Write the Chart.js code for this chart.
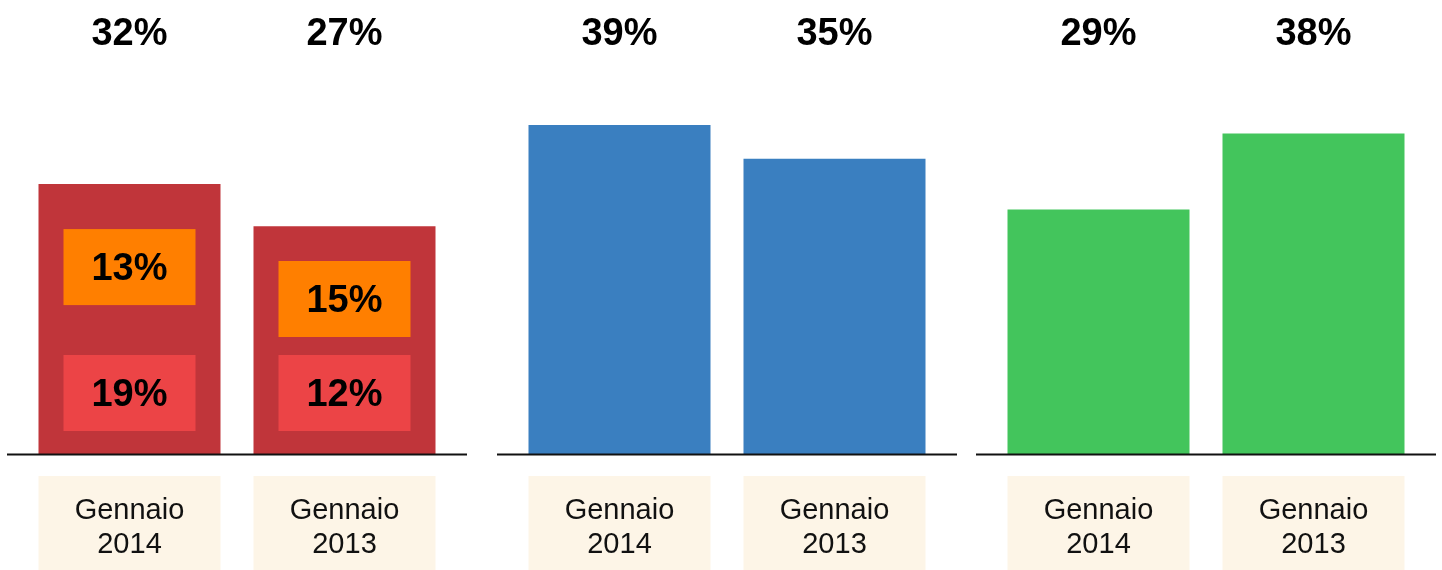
<!DOCTYPE html>
<html>
<head>
<meta charset="utf-8">
<script src="https://cdn.jsdelivr.net/npm/chart.js@4/dist/chart.umd.min.js"></script>
<style>
  body { margin: 0; background: #fff; }
  #wrap { position: relative; width: 1442px; height: 570px; overflow: hidden; }
  canvas { position: absolute; top: 0; }
</style>
</head>
<body>
<div id="wrap">
  <canvas id="c1" width="460" height="570" style="left:7px"></canvas>
  <canvas id="c2" width="460" height="570" style="left:497px"></canvas>
  <canvas id="c3" width="460" height="570" style="left:976px"></canvas>
</div>
<script>
// data
var categories = [['Gennaio', '2014'], ['Gennaio', '2013']];
var redValues = [32, 27];
var blueValues = [39, 35];
var greenValues = [29, 38];
// inner parts of the red bars
var orangeParts = [13, 15];
var lightRedParts = [19, 12];

var FONT = '"Liberation Sans", Arial, Helvetica, sans-serif';

// cream boxes behind the x labels
var labelBoxes = {
  id: 'labelBoxes',
  beforeDraw: function (chart) {
    var ctx = chart.ctx;
    var meta = chart.getDatasetMeta(0);
    ctx.save();
    ctx.fillStyle = '#fdf5e7';
    meta.data.forEach(function (bar) {
      var top = chart.chartArea.bottom + 22;
      ctx.fillRect(bar.x - bar.width / 2, top, bar.width, chart.height - top);
    });
    ctx.restore();
  }
};

// baseline + value labels on top + inner boxes
var extras = {
  id: 'extras',
  afterDatasetsDraw: function (chart, args, opts) {
    var ctx = chart.ctx;
    var meta = chart.getDatasetMeta(0);
    var vals = chart.data.datasets[0].data;
    var bottom = chart.chartArea.bottom;
    ctx.save();

    ctx.strokeStyle = '#111';
    ctx.lineWidth = 2;
    ctx.beginPath();
    ctx.moveTo(0, bottom + 0.5);
    ctx.lineTo(chart.width, bottom + 0.5);
    ctx.stroke();

    ctx.fillStyle = '#000';
    ctx.textAlign = 'center';
    ctx.textBaseline = 'alphabetic';
    ctx.font = 'bold 38px ' + FONT;
    meta.data.forEach(function (bar, i) {
      ctx.fillText(vals[i] + '%', bar.x, 45);
    });

    if (opts.upper) {
      meta.data.forEach(function (bar, i) {
        var w = bar.width - 50;
        var h = 76;
        var x = bar.x - w / 2;
        var lowTop = bottom - 23 - h;
        var upBottom = Math.min(bar.y + 121, lowTop - 18);
        var upTop = upBottom - h;

        ctx.fillStyle = '#ec4446';
        ctx.fillRect(x, lowTop, w, h);
        ctx.fillStyle = '#ff7f00';
        ctx.fillRect(x, upTop, w, h);

        ctx.fillStyle = '#000';
        ctx.font = 'bold 38px ' + FONT;
        ctx.fillText(opts.lower[i] + '%', bar.x, lowTop + h / 2 + 13);
        ctx.fillText(opts.upper[i] + '%', bar.x, upTop + h / 2 + 13);
      });
    }
    ctx.restore();
  }
};

function makeChart(id, values, color, upper, lower) {
  return new Chart(document.getElementById(id), {
    type: 'bar',
    data: {
      labels: categories,
      datasets: [{
        data: values,
        backgroundColor: color,
        borderWidth: 0,
        barPercentage: 182 / 215,
        categoryPercentage: 1
      }]
    },
    options: {
      responsive: false,
      animation: false,
      devicePixelRatio: 1,
      layout: { padding: { top: 66, bottom: 8, left: 15, right: 15 } },
      plugins: {
        legend: { display: false },
        tooltip: { enabled: false },
        extras: { upper: upper, lower: lower }
      },
      scales: {
        y: { display: false, min: 0, max: 46 },
        x: {
          grid: { display: false, drawTicks: false },
          border: { display: false },
          afterFit: function (scale) { scale.height = 108; },
          ticks: {
            padding: 40,
            color: '#111',
            font: { family: FONT, size: 29, lineHeight: 34 / 29 },
            maxRotation: 0
          }
        }
      }
    },
    plugins: [labelBoxes, extras]
  });
}

makeChart('c1', redValues, '#c0353a', orangeParts, lightRedParts);
makeChart('c2', blueValues, '#3a7fc0', null, null);
makeChart('c3', greenValues, '#43c55c', null, null);
</script>
</body>
</html>
